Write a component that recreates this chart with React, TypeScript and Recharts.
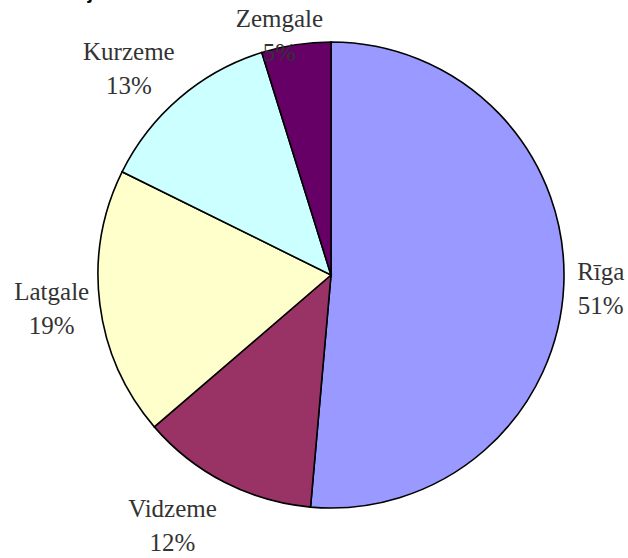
import React from "react";
import { Cell, Pie, PieChart } from "recharts";

// Share of population by region, %
const regions = ["Rīga", "Vidzeme", "Latgale", "Kurzeme", "Zemgale"];
const shares = [51.4, 12.3, 18.6, 12.9, 4.8];
const sliceColors = ["#9999FF", "#993366", "#FFFFCC", "#CCFFFF", "#660066"];

// small manual nudges so labels sit where the original placed them
const labelNudge: Record<string, [number, number]> = {
  "Rīga": [3, -3],
  Vidzeme: [-29, 3],
  Latgale: [2, -5],
  Kurzeme: [-18, -3],
  Zemgale: [-9, 26],
};

const data = regions.map((name, i) => ({ name, value: shares[i] }));

const FONT = 25;
const RADIAN = Math.PI / 180;

const renderLabel = (props: any) => {
  const { cx, cy, midAngle, outerRadius, name, percent } = props;
  const dx = Math.cos(-midAngle * RADIAN);
  const dy = Math.sin(-midAngle * RADIAN);
  const px = cx + (outerRadius + 12) * dx;
  const py = cy + (outerRadius + 12) * dy;
  const w = name.length * 22 * 0.5;
  const h = 22 * 2.6;
  const [nx, ny] = labelNudge[name] || [0, 0];
  const lx = px + (dx * w) / 2 + nx;
  const ly = py + (dy * h) / 2 + ny;
  return (
    <text
      x={lx}
      y={ly}
      textAnchor="middle"
      fill="#333333"
      fontFamily="'Liberation Serif', 'Times New Roman', serif"
      fontSize={FONT}
    >
      <tspan x={lx} dy={-4}>
        {name}
      </tspan>
      <tspan x={lx} dy={34}>
        {Math.round(percent * 100)}%
      </tspan>
    </text>
  );
};

export default function App() {
  return (
    <div
      style={{
        position: "absolute",
        left: 0,
        top: 0,
        width: 628,
        height: 558,
        background: "#ffffff",
        overflow: "hidden",
      }}
    >
      <div
        style={{
          position: "absolute",
          left: 2,
          top: -19,
          fontFamily: "'Liberation Sans', Arial, sans-serif",
          fontWeight: "bold",
          fontSize: 20,
          whiteSpace: "nowrap",
          color: "#000",
        }}
      >
        Iedzīvotāju skaits
      </div>
      <PieChart
        width={628}
        height={558}
        margin={{ top: 0, right: 0, bottom: 0, left: 0 }}
      >
        <Pie
          data={data}
          dataKey="value"
          nameKey="name"
          cx={331}
          cy={275}
          outerRadius={233}
          startAngle={90}
          endAngle={-270}
          stroke="#000000"
          strokeWidth={1.6}
          label={renderLabel}
          labelLine={false}
          isAnimationActive={false}
        >
          {data.map((d, i) => (
            <Cell key={d.name} fill={sliceColors[i]} />
          ))}
        </Pie>
      </PieChart>
    </div>
  );
}
